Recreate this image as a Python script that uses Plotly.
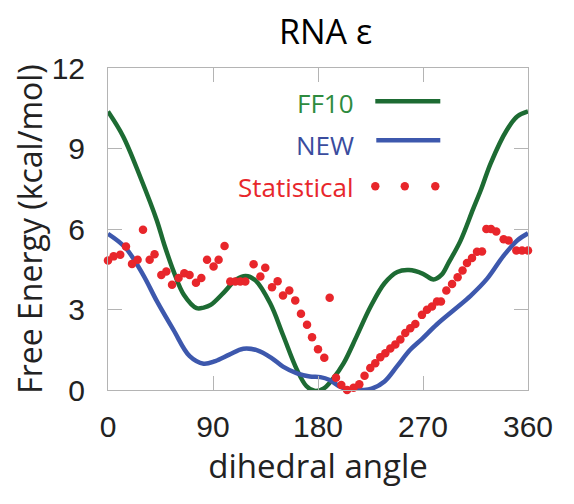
import plotly.graph_objects as go

# FF10 curve
ff10_angle = [0, 13, 28, 42, 48, 56, 65, 76, 82, 88, 99, 110, 118, 126, 139, 150, 162, 170, 177, 185,
              193, 202, 213, 225, 237, 248, 258, 270, 279, 286, 292, 302, 313, 320, 328, 342, 351, 360]
ff10_energy = [10.38, 9.45, 7.9, 6.3, 5.45, 4.45, 3.55, 3.05, 3.07, 3.17, 3.62, 4.12, 4.25, 4.1, 3.23, 2.05,
               0.75, 0.15, -0.03, 0.06, 0.43, 1.0, 1.99, 3.1, 3.98, 4.4, 4.47, 4.33, 4.12, 4.3, 4.75, 5.55,
               6.75, 7.5, 8.45, 9.7, 10.2, 10.38]

# NEW curve
new_angle = [0, 15, 30, 42, 56, 70, 82, 92, 104, 116, 128, 140, 150, 162, 173, 182, 190, 199, 208, 218,
             226, 237, 248, 259, 269, 282, 297, 311, 325, 339, 351, 360]
new_energy = [5.82, 5.3, 4.3, 3.3, 2.25, 1.26, 0.98, 1.08, 1.32, 1.54, 1.48, 1.2, 0.87, 0.62, 0.5, 0.48,
              0.37, 0.12, 0.0, 0.0, 0.05, 0.32, 0.9, 1.5, 1.9, 2.45, 3.0, 3.52, 4.15, 5.0, 5.58, 5.84]

# Statistical points
stat_angle = [0, 4.8, 10.5, 15.4, 20.6, 25.4, 30, 35.7, 39.9, 45.7, 50, 54.9, 60.5, 65.4, 69.9, 75.4, 80,
              84.9, 90.5, 94.8, 99.9, 104.8, 109.1, 113.4, 117.7, 124.8, 130.6, 134.8, 140.6, 145.4, 150,
              155.4, 160.5, 165.4, 170.6, 174.9, 180, 185.4, 190, 195.4, 200, 204.9, 210.5, 215.4, 219.9,
              224.8, 229.1, 233.4, 237.7, 242, 246.3, 250.6, 254.8, 259.1, 263.4, 269.1, 273.4, 277.7,
              282, 285.4, 290, 294.9, 299.7, 303.9, 307.7, 312, 316.3, 320.6, 324.3, 328.3, 332.8, 339.1,
              343.4, 350, 354.9, 360]
stat_energy = [4.83, 4.98, 5.04, 5.35, 4.7, 4.85, 5.97, 4.85, 5.06, 4.29, 4.42, 3.92, 4.17, 4.35, 4.29,
               4.0, 4.17, 4.85, 4.6, 4.85, 5.37, 4.04, 4.04, 4.04, 4.04, 4.69, 4.23, 4.56, 3.83, 4.05,
               3.52, 3.71, 3.34, 2.84, 2.43, 1.97, 1.52, 1.2, 3.44, 0.46, 0.19, 0.0, 0.08, 0.21, 0.53,
               0.82, 1.0, 1.22, 1.37, 1.55, 1.7, 1.88, 2.12, 2.3, 2.46, 2.8, 2.99, 3.11, 3.3, 3.3, 3.71,
               3.95, 4.2, 4.45, 4.73, 4.92, 5.15, 5.16, 6.0, 6.0, 5.91, 5.62, 5.57, 5.2, 5.2, 5.2]

x_ticks = [0, 90, 180, 270, 360]
y_ticks = [0, 3, 6, 9, 12]
series_names = ["FF10", "NEW", "Statistical"]

GREEN_LINE = "#1d6b33"
GREEN_TEXT = "#2e8b3e"
BLUE_LINE = "#3d58ad"
BLUE_TEXT = "#3a4c9e"
RED = "#e8262b"
AXC = "#b4b4b4"
TXT_FONT = "Open Sans"
TICK_FONT = "Liberation Sans, Arial"

# page body has an 8px margin; work in page coordinates and convert
OFF = 8
W, H = 574 - 2 * OFF, 504 - 2 * OFF
L, R, T, B = 107.7 - OFF, 527.7 - OFF, 68.3 - OFF, 390.0 - OFF

def px2x(px):
    return (px - OFF - L) / (R - L)

def py2y(py):
    return (B - (py - OFF)) / (B - T)

fig = go.Figure()
fig.add_trace(go.Scatter(x=ff10_angle, y=ff10_energy, mode="lines", name=series_names[0],
                         line=dict(color=GREEN_LINE, width=4.5, shape="spline", smoothing=1.0),
                         showlegend=False))
fig.add_trace(go.Scatter(x=new_angle, y=new_energy, mode="lines", name=series_names[1],
                         line=dict(color=BLUE_LINE, width=4.5, shape="spline", smoothing=1.0),
                         showlegend=False))
fig.add_trace(go.Scatter(x=stat_angle, y=stat_energy, mode="markers", name=series_names[2],
                         marker=dict(color=RED, size=8.5, line=dict(width=0)),
                         cliponaxis=False, showlegend=False))

# Legend: text precedes the sample, as in the reference
legend_rows = [
    (series_names[0], GREEN_TEXT, 103),
    (series_names[1], BLUE_TEXT, 145),
    (series_names[2], RED, 187),
]
for name, col, py in legend_rows:
    fig.add_annotation(x=px2x(356), y=py2y(py), xref="paper", yref="paper", text=name,
                       showarrow=False, xanchor="right", yanchor="middle",
                       font=dict(family=TXT_FONT, size=26, color=col))

fig.add_shape(type="line", xref="paper", yref="paper", x0=px2x(375), x1=px2x(440),
              y0=py2y(101.5), y1=py2y(101.5), line=dict(color=GREEN_LINE, width=4.5))
fig.add_shape(type="line", xref="paper", yref="paper", x0=px2x(376), x1=px2x(440),
              y0=py2y(140.5), y1=py2y(140.5), line=dict(color=BLUE_LINE, width=4.5))
for cx in [375, 404.5, 435]:
    r = 4.2
    fig.add_shape(type="circle", xref="paper", yref="paper",
                  x0=px2x(cx - r), x1=px2x(cx + r), y0=py2y(186.5 + r), y1=py2y(186.5 - r),
                  fillcolor=RED, line=dict(width=0))

fig.add_annotation(x=(325 - OFF - L) / (R - L), y=1, xref="paper", yref="paper",
                   text="RNA ε", showarrow=False, xanchor="center", yanchor="bottom", yshift=12,
                   font=dict(family=TXT_FONT, size=34, color="black"))

fig.update_layout(
    width=W, height=H,
    margin=dict(l=L, r=W - R, t=T, b=H - B, pad=0),
    paper_bgcolor="white", plot_bgcolor="white",
)
fig.update_xaxes(range=[0, 360], tickvals=x_ticks, ticktext=[str(v) for v in x_ticks],
                 showgrid=False, zeroline=False, showline=True, linecolor=AXC, linewidth=1,
                 mirror="ticks", ticks="inside", ticklen=14, tickcolor=AXC, tickwidth=1,
                 tickfont=dict(family=TICK_FONT, size=30, color="#222"), ticklabelstandoff=10,
                 title=dict(text="dihedral angle", standoff=9,
                            font=dict(family=TXT_FONT, size=33, color="#222")))
fig.update_yaxes(range=[0, 12], tickvals=y_ticks, ticktext=[str(v) for v in y_ticks],
                 showgrid=False, zeroline=False, showline=True, linecolor=AXC, linewidth=1,
                 mirror="ticks", ticks="inside", ticklen=14, tickcolor=AXC, tickwidth=1,
                 tickfont=dict(family=TICK_FONT, size=30, color="#222"), ticklabelstandoff=16,
                 title=dict(text="Free Energy (kcal/mol)", standoff=2,
                            font=dict(family=TXT_FONT, size=32, color="#222")))

fig.write_html("out.html")
